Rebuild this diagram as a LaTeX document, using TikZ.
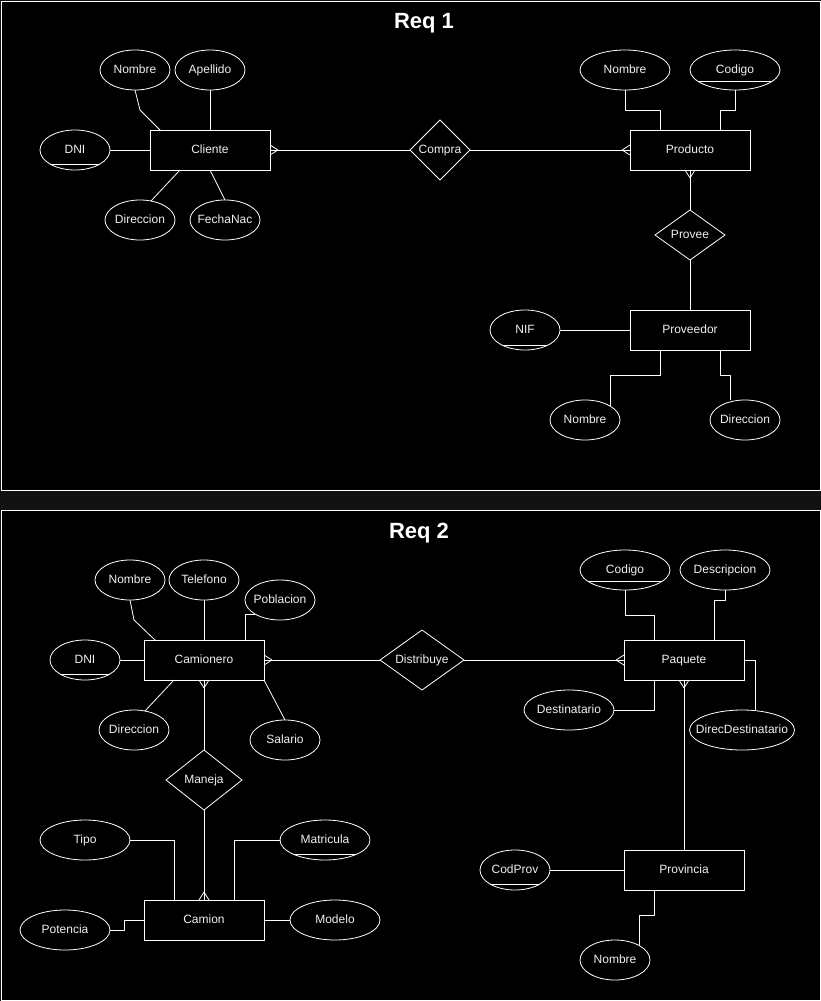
\documentclass[tikz,border=0pt]{standalone}
\usepackage{fontspec}
\setmainfont{Liberation Sans}
\usetikzlibrary{positioning, shapes.geometric, calc}

\begin{document}
\begin{tikzpicture}[x=1pt,y=-1pt,
  entity/.style={rectangle, draw=drawColor, line width=1pt, fill=fillColor, text=textColor,
    minimum width=120pt, minimum height=40pt, inner sep=0pt, outer sep=0pt,
    text height=8.6pt, text depth=2.4pt, font=\fontsize{12}{14}\selectfont},
  attr/.style={ellipse, draw=drawColor, line width=0.8pt, fill=fillColor, text=textColor,
    minimum width=70pt, minimum height=40pt, inner xsep=-10pt, inner ysep=0pt, outer sep=0pt,
    text height=8.6pt, text depth=2.4pt, font=\fontsize{12}{14}\selectfont},
  keyattr/.style={attr, path picture={
    \draw[drawColor, line width=0.8pt]
      ([yshift=-#1]path picture bounding box.west) -- ([yshift=-#1]path picture bounding box.east);}},
  keyattr/.default=14pt,
  rel/.style={diamond, aspect=1.4, draw=drawColor, line width=0.8pt, fill=fillColor, text=textColor,
    minimum width=60pt, minimum height=60pt, inner sep=0pt, outer sep=0pt,
    text height=8.6pt, text depth=2.4pt, font=\fontsize{12}{14}\selectfont},
  link/.style={draw=drawColor, line width=0.8pt, line join=round},
  title/.style={text=drawColor, text height=16pt, text depth=0pt, font=\fontsize{22}{26}\selectfont\bfseries}]
\definecolor{fillColor}{RGB}{0,0,0}
\definecolor{drawColor}{RGB}{255,255,255}
\definecolor{textColor}{RGB}{240,240,240}
\definecolor{gapColor}{RGB}{18,18,18}

\path[use as bounding box,fill=gapColor] (0,0) rectangle (821,1001);
\path[draw=drawColor,line width=1pt,fill=fillColor] (1,1) rectangle (820,490);
\path[draw=drawColor,line width=1pt,fill=fillColor] (1,510) rectangle (820,1000);

% Req 1
\node[title] (req1) at (424,20) {Req 1};

\node[entity] (cli) at (210,150) {Cliente};
\node[entity] (prod) at (690,150) {Producto};
\node[entity] (prov) at (690,330) {Proveedor};
\node[rel] (compra) at (440,150) {Compra};
\node[rel, minimum width=70pt, minimum height=50pt] (provee) at (690,235) {Provee};

\node[attr] (cnom) at (135,70) {Nombre};
\node[attr] (cape) at (210,70) {Apellido};
\node[keyattr] (cdni) at (75,150) {DNI};
\node[attr] (cdir) at (140,220) {Direccion};
\node[attr] (cfec) at (225,220) {FechaNac};
\node[attr, minimum width=90pt] (pnom) at (625,70) {Nombre};
\node[keyattr=11pt, minimum width=90pt] (pcod) at (735,70) {Codigo};
\node[keyattr=15pt] (vnif) at (525,330) {NIF};
\node[attr] (vnom) at (585,420) {Nombre};
\node[attr] (vdir) at (745,420) {Direccion};

\draw[link] (cnom.south) -- ++(5,20) -- ([xshift=-50pt]cli.north);
\draw[link] (cape.south) -- (cli.north);
\draw[link] (cdni.east) -- (cli.west);
\draw[link] ([xshift=-30pt]cli.south) -- (cdir.60);
\draw[link] (cli.south) -- (cfec.north);
\draw[link] (compra.west) -- (cli.east);
\draw[link] ([xshift=8pt]cli.east) -- ([yshift=5pt]cli.east) ([xshift=8pt]cli.east) -- ([yshift=-5pt]cli.east);
\draw[link] (compra.east) -- (prod.west);
\draw[link] ([xshift=-8pt]prod.west) -- ([yshift=5pt]prod.west) ([xshift=-8pt]prod.west) -- ([yshift=-5pt]prod.west);
\draw[link] (pnom.south) -- ++(0,20) -| ([xshift=-30pt]prod.north);
\draw[link] (pcod.south) -- ++(0,20) -| ([xshift=30pt]prod.north);
\draw[link] (prod.south) -- (provee.north);
\draw[link] ([yshift=-8pt]prod.south) -- ([xshift=5pt]prod.south) ([yshift=-8pt]prod.south) -- ([xshift=-5pt]prod.south);
\draw[link] (provee.south) -- (prov.north);
\draw[link] (vnif.east) -- (prov.west);
\draw[link] ([xshift=-30pt]prov.south) -- ++(0,25) -| (vnom.29);
\draw[link] ([xshift=30pt]prov.south) -- ++(0,25) -| ([xshift=-15pt]vdir.north);

% Req 2
\node[title] (req2) at (419,530) {Req 2};

\node[entity] (cam) at (204,660) {Camionero};
\node[entity] (paq) at (684,660) {Paquete};
\node[entity] (pcia) at (684,870) {Provincia};
\node[entity] (camion) at (204,920) {Camion};
\node[rel, minimum width=84pt] (distr) at (422,660) {Distribuye};
\node[rel, minimum width=76pt] (maneja) at (204,780) {Maneja};

\node[attr] (knom) at (130,580) {Nombre};
\node[attr] (ktel) at (204,580) {Telefono};
\node[attr] (kpob) at (280,600) {Poblacion};
\node[keyattr] (kdni) at (85,660) {DNI};
\node[attr] (kdir) at (134,730) {Direccion};
\node[attr] (ksal) at (285,740) {Salario};
\node[keyattr=11pt, minimum width=90pt] (qcod) at (625,570) {Codigo};
\node[attr, minimum width=90pt] (qdes) at (725,570) {Descripcion};
\node[attr, minimum width=90pt] (qdst) at (569,710) {Destinatario};
\node[attr, minimum width=105pt] (qddi) at (742,730) {DirecDestinatario};
\node[keyattr] (rcod) at (515,870) {CodProv};
\node[attr] (rnom) at (615,960) {Nombre};
\node[attr, minimum width=90pt] (tipo) at (85,840) {Tipo};
\node[keyattr, minimum width=90pt] (tmat) at (325,840) {Matricula};
\node[attr, minimum width=90pt] (tpot) at (65,930) {Potencia};
\node[attr, minimum width=90pt] (tmod) at (335,920) {Modelo};

\draw[link] (knom.south) -- ++(4,20) -- ([xshift=-49pt]cam.north);
\draw[link] (ktel.south) -- (cam.north);
\draw[link] ([xshift=41pt]cam.north) |- (kpob.209);
\draw[link] (kdni.east) -- (cam.west);
\draw[link] ([xshift=-30pt]cam.south) -- (kdir.60);
\draw[link] (cam.south east) -- (ksal.north);
\draw[link] (distr.west) -- (cam.east);
\draw[link] ([xshift=8pt]cam.east) -- ([yshift=5pt]cam.east) ([xshift=8pt]cam.east) -- ([yshift=-5pt]cam.east);
\draw[link] (distr.east) -- (paq.west);
\draw[link] ([xshift=-8pt]paq.west) -- ([yshift=5pt]paq.west) ([xshift=-8pt]paq.west) -- ([yshift=-5pt]paq.west);
\draw[link] (cam.south) -- (maneja.north);
\draw[link] ([yshift=-8pt]cam.south) -- ([xshift=5pt]cam.south) ([yshift=-8pt]cam.south) -- ([xshift=-5pt]cam.south);
\draw[link] (maneja.south) -- (camion.north);
\draw[link] ([yshift=8pt]camion.north) -- ([xshift=5pt]camion.north) ([yshift=8pt]camion.north) -- ([xshift=-5pt]camion.north);
\draw[link] (qcod.south) -- ++(0,25) -| ([xshift=-30pt]paq.north);
\draw[link] (qdes.south) -- ++(0,10) -| ([xshift=30pt]paq.north);
\draw[link] ([xshift=-30pt]paq.south) |- (qdst.east);
\draw[link] (paq.east) -| ([xshift=13pt]qddi.north);
\draw[link] (paq.south) -- (pcia.north);
\draw[link] ([yshift=-8pt]paq.south) -- ([xshift=5pt]paq.south) ([yshift=-8pt]paq.south) -- ([xshift=-5pt]paq.south);
\draw[link] (rcod.east) -- (pcia.west);
\draw[link] ([xshift=-30pt]pcia.south) -- ++(0,25) -| (rnom.31);
\draw[link] (tipo.east) -| ([xshift=-30pt]camion.north);
\draw[link] (tmat.west) -| ([xshift=30pt]camion.north);
\draw[link] (tpot.east) -- ++(14,0) |- (camion.west);
\draw[link] (camion.east) -- (tmod.west);
\end{tikzpicture}
\end{document}
